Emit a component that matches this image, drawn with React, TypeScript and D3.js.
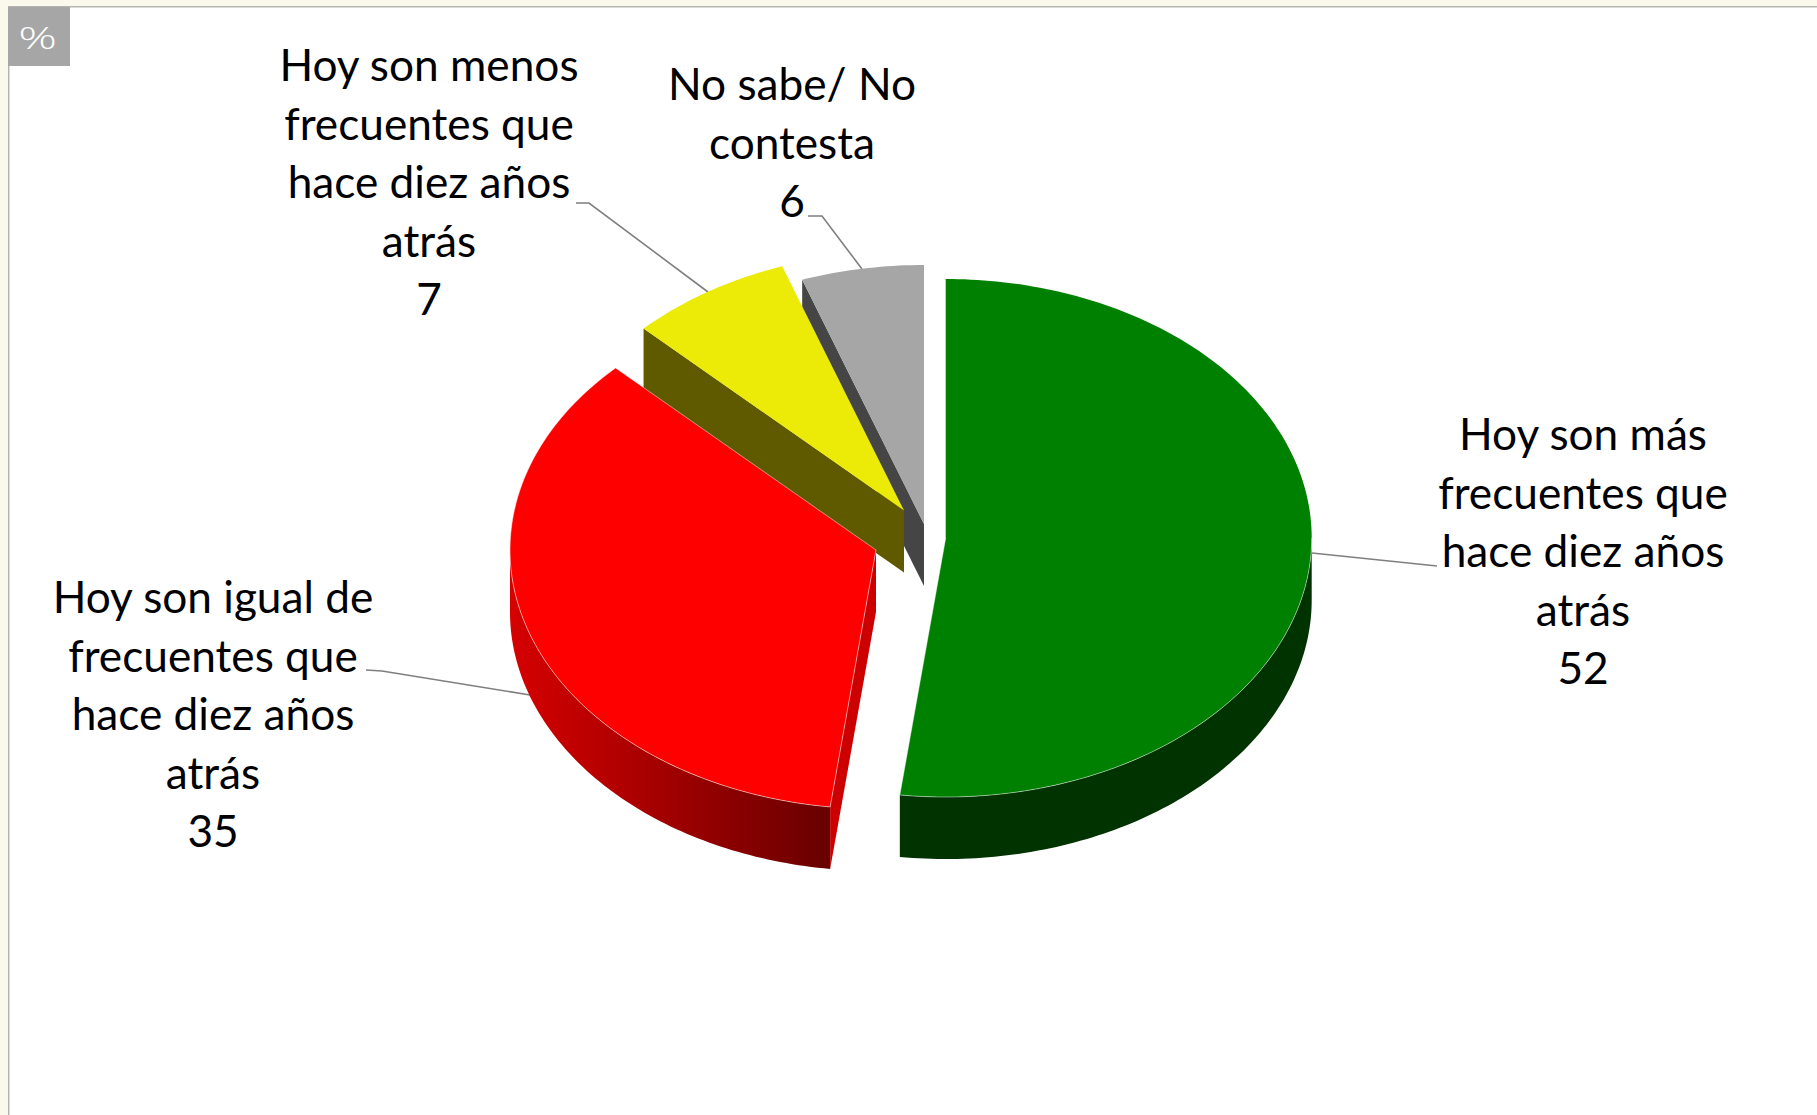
import React from "react";
import * as d3 from "d3";

// values printed on the labels, and the shares the slices really take up
const categories = [
  ["Hoy son más", "frecuentes que", "hace diez años", "atrás"],
  ["Hoy son igual de", "frecuentes que", "hace diez años", "atrás"],
  ["Hoy son menos", "frecuentes que", "hace diez años", "atrás"],
  ["No sabe/ No", "contesta"],
];
const labelValues = [52, 35, 7, 6];
const sliceShares = [52, 35.4, 7.2, 5.4];
const topColors = ["#008000", "#ff0000", "#ebeb07", "#a6a6a6"];
const edgeColors = ["#003300", "#cc0000", "#5f5a00", "#454545"];

const WIDTH = 1817, HEIGHT = 1115;
const RX = 366, RY = 259, DEPTH = 62;
const FONT = "Lato, 'Open Sans', sans-serif";
const FONT_SIZE = 44.2;
const LINE_H = 58.5;

// exploded slices: where each apex ended up
const apex = [[945.7, 538], [876, 550], [904, 510.5], [924, 524]];
const labelPos = [[1583, 450], [213, 613], [429, 81], [792, 100]];
const leaders = [
  [[1312, 553], [1437, 566]],
  [[530, 695], [382, 671], [366, 670]],
  [[708, 292], [589, 203], [576, 203]],
  [[862, 269], [822, 216], [808, 216]],
];

const slices = d3.pie<number>().sort(null)(sliceShares);
const line = d3.line();

const rim = (i: number, a: number): [number, number] => [
  apex[i][0] + RX * Math.sin(a),
  apex[i][1] - RY * Math.cos(a),
];
const rimPoints = (i: number, a0: number, a1: number) => {
  const n = Math.max(2, Math.ceil(((a1 - a0) * 180) / Math.PI));
  return d3.range(n + 1).map((k) => rim(i, a0 + ((a1 - a0) * k) / n));
};
const down = (p: number[]): [number, number] => [p[0], p[1] + DEPTH];

const RIGHT = Math.PI / 2, LEFT = (3 * Math.PI) / 2;

export default function App() {
  // back slices first, the front ones cover their cut faces
  const order = [3, 2, 1, 0];
  return (
    <svg
      width={WIDTH}
      height={HEIGHT}
      viewBox={`0 0 ${WIDTH} ${HEIGHT}`}
      style={{ position: "absolute", left: 0, top: 0 }}
    >
      <defs>
        <linearGradient id="redWall" gradientUnits="userSpaceOnUse" x1="510" x2="830" y1="0" y2="0">
          <stop offset="0" stopColor="#d60000" />
          <stop offset="0.5" stopColor="#a00000" />
          <stop offset="1" stopColor="#680000" />
        </linearGradient>
      </defs>
      <rect width={WIDTH} height={HEIGHT} fill="#fbf8ec" />
      <rect x={8} y={6} width={WIDTH} height={HEIGHT} fill="#b4b4b0" />
      <rect x={9.5} y={7.5} width={WIDTH} height={HEIGHT} fill="#ffffff" />
      <rect x={8} y={7} width={62} height={59} fill="#a6a6a6" />
      <text
        transform="translate(37.5,49) scale(1.5,1)"
        textAnchor="middle"
        fontFamily="'Open Sans', sans-serif"
        fontWeight={300}
        fontSize={32}
        fill="#ffffff"
      >
        %
      </text>

      {leaders.map((pts, i) => (
        <path key={i} d={line(pts as [number, number][]) || ""} fill="none" stroke="#7f7f7f" strokeWidth={1.6} />
      ))}

      {order.map((i) => {
        const s = slices[i];
        const a0 = s.startAngle, a1 = s.endAngle;
        const p0 = rim(i, a0);
        const ap = apex[i] as [number, number];
        const face = rimPoints(i, a0, a1);

        // outer wall, only the part of the rim that looks at us
        const w0 = Math.max(a0, RIGHT), w1 = Math.min(a1, LEFT);
        const hasWall = w1 > w0;
        const wallTop = hasWall ? rimPoints(i, w0, w1) : [];
        const wall = [...wallTop, ...wallTop.map(down).reverse()];

        // green is the only slice whose cut face stays hidden
        const cut: [number, number][] | null = i === 0 ? null : [ap, down(ap), down(p0), p0];
        const fill = i === 1 ? "url(#redWall)" : edgeColors[i];

        return (
          <g key={i}>
            {cut && <path d={line(cut) + "Z"} fill={edgeColors[i]} />}
            {hasWall && <path d={line(wall) + "Z"} fill={fill} />}
            <path d={line([ap, ...face]) + "Z"} fill={topColors[i]} />
            {i === 1 && (
              <path d={line([ap, ...face]) + "Z"} fill="none" stroke="#ffffff" strokeOpacity={0.55} strokeWidth={0.9} />
            )}
            {i === 0 && (
              <path d={line([...rimPoints(i, RIGHT, a1), ap]) || ""} fill="none" stroke="#ffffff" strokeOpacity={0.5} strokeWidth={0.9} />
            )}
          </g>
        );
      })}

      {categories.map((lines, i) => (
        <text
          key={i}
          textAnchor="middle"
          fontFamily={FONT}
          fontSize={FONT_SIZE}
          fill="#000000"
          transform={`translate(${labelPos[i][0]},${labelPos[i][1]})`}
        >
          {[...lines, String(labelValues[i])].map((t, k) => (
            <tspan key={k} x={0} y={k * LINE_H}>
              {t}
            </tspan>
          ))}
        </text>
      ))}
    </svg>
  );
}
